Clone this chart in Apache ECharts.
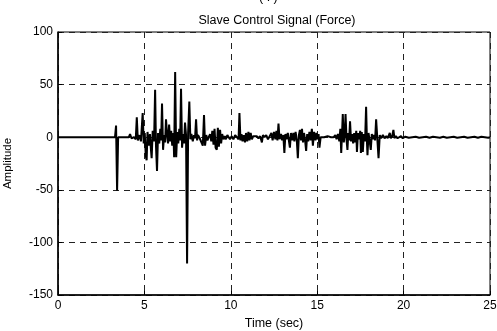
<!DOCTYPE html>
<html>
<head>
<meta charset="utf-8">
<script src="https://cdn.jsdelivr.net/npm/echarts@6/dist/echarts.min.js"></script>
<style>
    html, body { margin: 0; padding: 0; background: #fff; }
    #chart { width: 497px; height: 331px; }
</style>
</head>
<body>
<div id="chart"></div>
<script>
// time (sec) of each sample
var times = [
    0, 3.30, 3.36, 3.42, 3.48, 4.10, 4.17, 4.25, 4.40, 4.50,
    4.56, 4.62, 4.72, 4.80, 4.90, 4.96, 5.02, 5.08, 5.13, 5.18,
    5.25, 5.32, 5.38, 5.42, 5.48, 5.56, 5.62, 5.67, 5.73, 5.79,
    5.86, 5.92, 5.97, 6.02, 6.08, 6.14, 6.20, 6.25, 6.31, 6.37,
    6.43, 6.49, 6.55, 6.61, 6.68, 6.72, 6.78, 6.84, 6.90, 6.96,
    7.02, 7.07, 7.12, 7.18, 7.24, 7.30, 7.35, 7.41, 7.47, 7.53,
    7.60, 7.66, 7.72, 7.80, 7.87, 7.93, 7.99, 8.05, 8.10, 8.20,
    8.30, 8.38, 8.45, 8.51, 8.58, 8.65, 8.72, 8.80, 8.87, 8.93,
    9.00, 9.06, 9.12, 9.19, 9.25, 9.31, 9.38, 9.44, 9.50, 9.58,
    9.65, 9.72, 9.80, 9.88, 9.95, 10.05, 10.15, 10.25, 10.35, 10.45,
    10.50, 10.56, 10.62, 10.68, 10.75, 10.82, 10.88, 10.95, 11.02, 11.08,
    11.15, 11.22, 11.30, 11.40, 11.50, 11.60, 11.70, 11.80, 11.86, 11.95,
    12.05, 12.15, 12.25, 12.35, 12.42, 12.50, 12.58, 12.64, 12.70, 12.76,
    12.82, 12.90, 12.97, 13.04, 13.10, 13.16, 13.22, 13.30, 13.36, 13.42,
    13.48, 13.55, 13.62, 13.68, 13.75, 13.82, 13.88, 13.94, 14.00, 14.06,
    14.12, 14.18, 14.24, 14.30, 14.36, 14.42, 14.48, 14.55, 14.62, 14.69,
    14.75, 14.82, 14.90, 14.96, 15.02, 15.08, 15.13, 15.20, 15.40, 15.60,
    15.80, 15.95, 16.05, 16.12, 16.20, 16.28, 16.34, 16.39, 16.44, 16.48,
    16.54, 16.60, 16.64, 16.70, 16.75, 16.80, 16.85, 16.90, 16.96, 17.02,
    17.08, 17.14, 17.20, 17.26, 17.30, 17.36, 17.42, 17.49, 17.53, 17.58,
    17.64, 17.70, 17.77, 17.83, 17.88, 17.91, 17.97, 18.03, 18.10, 18.16,
    18.22, 18.28, 18.35, 18.41, 18.47, 18.55, 18.62, 18.70, 18.80, 18.90,
    19.00, 19.08, 19.15, 19.20, 19.26, 19.34, 19.41, 19.47, 19.55, 19.65,
    19.75, 19.85, 19.95, 20.10, 20.30, 20.50, 20.70, 20.90, 21.10, 21.30,
    21.50, 21.70, 21.90, 22.10, 22.30, 22.50, 22.70, 22.90, 23.10, 23.30,
    23.50, 23.70, 23.90, 24.10, 24.30, 24.50, 24.70, 24.90, 25.00
];

// force amplitude at each of those times
var amplitude = [
    0, 0, 11, -51, 0, 0, 3, -1, 0, -2,
    19, -3, 2, -4, 23, -6, 4, -18, -22, 5,
    -8, 3, -12, -20, 6, -4, 45, -8, -32, 4,
    -6, 8, -3, 32, -12, 2, -5, 17, 3, -6,
    12, -4, 6, -8, 4, -19, 62, -19, 5, -6,
    8, -3, 46, -10, 3, -6, 14, 2, -120, 4,
    34, -2, 3, -4, 2, -1, 17, -3, 2, -1,
    0, -8, 21, -8, 2, -3, 0, 3, -4, 6,
    -7, 8, -10, -12, 9, -9, 7, -6, 3, -2,
    1, -2, 2, 0, -2, 1, -2, 2, 0, -2,
    23, -3, 3, -4, 2, -5, 4, -4, 5, -3,
    4, -2, 1, 0, 1, -1, 1, -5, 2, 0,
    2, -2, 1, 4, -3, 5, -2, 6, -3, 13,
    -2, 3, -3, 2, -15, 3, -2, 4, -3, -10,
    4, -3, 4, -4, 5, -3, -20, 2, 7, -3,
    8, -5, 4, -3, -13, 3, -4, 5, -3, 8,
    -8, 5, -3, 4, -2, 3, -10, 0, 0, 1,
    0, 0, 2, -2, 3, -4, 8, -15, 4, 22,
    -5, 4, 22, -3, -12, 4, -3, 15, -4, 3,
    -6, 4, -5, 6, -14, 4, -2, 6, -15, 5,
    -14, 3, -4, 29, -5, -17, 4, -3, -12, 3,
    -2, 2, -3, 17, 1, -20, 2, -1, 2, -1,
    1, -1, 2, 4, -1, 1, 7, -1, 1, -1,
    0, 1, -1, 0.5, -0.5, 0, 0.5, -0.5, 0, 0.5,
    -0.5, 0.5, 0, -0.5, 0.5, -0.5, 0, 0.5, -0.5, 0,
    0.5, -0.5, 0, 0.5, -0.5, 0.5, 0, -0.5, 0
];

var xTicks = [0, 5, 10, 15, 20, 25];
var yTicks = [-150, -100, -50, 0, 50, 100];

var chart = echarts.init(document.getElementById('chart'));

var font = 'Liberation Sans, Arial, sans-serif';
var dashed = {
    show: true,
    lineStyle: { color: '#222', type: [6, 5], width: 1 }
};

chart.setOption({
    animation: false,
    backgroundColor: '#fff',
    title: {
        text: 'Slave Control Signal (Force)',
        left: 272,
        top: 9,
        textAlign: 'center',
        textStyle: { fontFamily: font, fontSize: 12.5, fontWeight: 'normal', color: '#000' }
    },
    graphic: [{
        type: 'text',
        left: 259,
        top: -9,
        style: { text: '( . )', fontFamily: font, fontSize: 12.5, fill: '#000' }
    }],
    grid: {
        left: 58,
        right: 7,
        top: 32,
        bottom: 36,
        outerBoundsMode: 'none',
        show: true,
        borderColor: '#000',
        borderWidth: 1
    },
    xAxis: {
        type: 'value',
        min: xTicks[0],
        max: xTicks[xTicks.length - 1],
        interval: 5,
        name: 'Time (sec)',
        nameLocation: 'middle',
        nameGap: 22,
        nameTextStyle: { fontFamily: font, fontSize: 12.5, color: '#000' },
        axisLine: { show: true, onZero: false, lineStyle: { color: '#000', width: 1.5 } },
        axisTick: { show: true, inside: true, length: 4, lineStyle: { color: '#000' } },
        axisLabel: { fontFamily: font, fontSize: 12, color: '#000', margin: 5 },
        splitLine: dashed
    },
    yAxis: {
        type: 'value',
        min: yTicks[0],
        max: yTicks[yTicks.length - 1],
        interval: 50,
        name: 'Amplitude',
        nameLocation: 'middle',
        nameGap: 44,
        nameTextStyle: { fontFamily: font, fontSize: 11.5, color: '#000' },
        axisLine: { show: true, lineStyle: { color: '#000', width: 1.5 } },
        axisTick: { show: true, inside: true, length: 4, lineStyle: { color: '#000' } },
        axisLabel: { fontFamily: font, fontSize: 12, color: '#000', margin: 5 },
        splitLine: dashed
    },
    series: [{
        type: 'line',
        data: times.map((t, i) => [t, amplitude[i]]),
        showSymbol: false,
        lineStyle: { color: '#000', width: 2 },
        z: 5
    }]
});
</script>
</body>
</html>
